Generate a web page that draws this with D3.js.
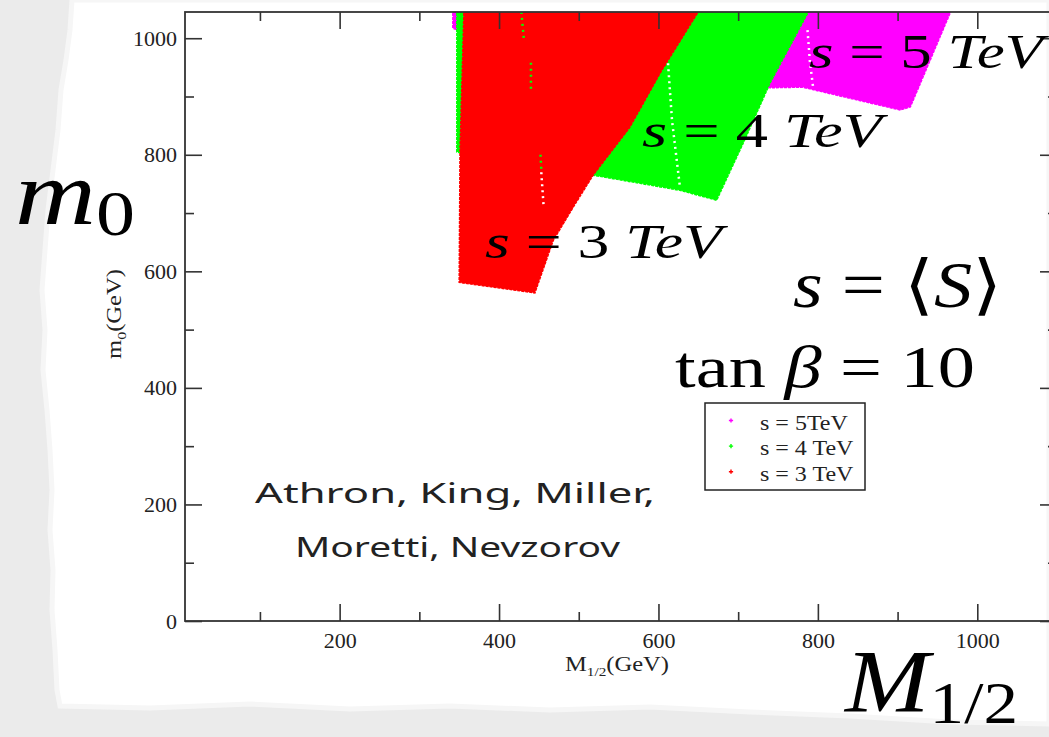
<!DOCTYPE html>
<html>
<head>
<meta charset="utf-8">
<script src="https://cdn.jsdelivr.net/npm/d3@7"></script>
<style>
  html, body { margin: 0; padding: 0; background: #fff; }
  svg { display: block; }
  text { white-space: pre; }
</style>
</head>
<body>
<svg id="chart" width="1049" height="737"></svg>
<script>
'use strict';

// tick values
var xTicks = [200, 400, 600, 800, 1000];
var xMinor = [100, 300, 500, 700, 900];
var yTicks = [0, 200, 400, 600, 800, 1000];
var yMinor = [100, 300, 500, 700, 900];

// allowed regions in the (M1/2, m0) plane, GeV
var region5 = [[342, 1050], [342, 1017], [348, 1014], [740, 915], [781, 916], [840, 897],
               [903, 877], [916, 882], [968, 1050]];
var region4 = [[347, 1050], [347, 805], [353, 803], [518, 765], [577, 751], [627, 739],
               [673, 722], [708, 825], [740, 923], [790, 1050]];
var region3 = [[356, 1050], [351, 803], [350, 581], [445, 563], [468, 653], [493, 710],
               [518, 765], [564, 847], [602, 940], [652, 1050]];

// gaps in the scans (speckled lines inside the regions)
var gaps3 = [[[428, 1045], [431, 1000]], [[440, 958], [440, 910]], [[452, 800], [453, 775]]];
var gaps3white = [[[453, 770], [456, 710]]];
var gaps4white = [[[612, 957], [617, 859], [627, 744]]];
var gaps5white = [[[787, 1014], [790, 960], [794, 916]]];

var legendNames = ["s = 5TeV", "s = 4 TeV", "s = 3 TeV"];
var colors = ["#ff00ff", "#00ff00", "#ff0000"];

var width = 1049,
    height = 737;

var svg = d3.select("#chart");

var x = d3.scaleLinear().domain([6, 1100]).range([185, 1057]);
var y = d3.scaleLinear().domain([0, 1045]).range([621, 12]);

//////////// torn paper background
var paperEdge = [[72, 0], [70, 30], [66, 60], [61, 90], [58, 130], [53, 170], [48, 210], [45, 250],
                 [42, 290], [45, 330], [43, 370], [47, 410], [50, 450], [52, 490], [50, 530],
                 [53, 570], [52, 610], [55, 650], [57, 690], [60, 706], [150, 708], [250, 704],
                 [350, 709], [450, 706], [550, 710], [650, 707], [750, 712], [850, 716],
                 [950, 722], [1049, 724], [1049, 0]];

svg.append("rect").attr("width", width).attr("height", height).attr("fill", "#ebebeb");
svg.append("path")
    .attr("d", d3.line()(paperEdge) + "Z")
    .attr("fill", "#fff")
    .attr("stroke", "#f6f6f6")
    .attr("stroke-width", 5);

//////////// plot area
svg.append("clipPath").attr("id", "plotclip")
  .append("rect")
    .attr("x", x.range()[0]).attr("y", y.range()[1])
    .attr("width", x.range()[1] - x.range()[0])
    .attr("height", y.range()[0] - y.range()[1] + 2);

var plot = svg.append("g").attr("clip-path", "url(#plotclip)");

var area = d3.line().x(function(d) { return x(d[0]); }).y(function(d) { return y(d[1]); });

[region5, region4, region3].forEach(function(r, i) {
  plot.append("path")
      .attr("d", area(r) + "Z")
      .attr("fill", colors[i])
      .attr("stroke", colors[i])
      .attr("stroke-width", 1.5)
      .attr("stroke-dasharray", "3,1");
});

function gapLines(list, col) {
  list.forEach(function(g) {
    plot.append("path")
        .attr("d", area(g))
        .attr("fill", "none")
        .attr("stroke", col)
        .attr("stroke-width", 2.5)
        .attr("stroke-dasharray", "2,4");
  });
}
gapLines(gaps3, colors[1]);
gapLines(gaps3white, "#fff");
gapLines(gaps4white, "#fff");
gapLines(gaps5white, "#fff");

//////////// axes: inward ticks on all four sides
var tickFont = "'Liberation Serif', 'Times New Roman', serif";

function styleAxis(g) {
  g.select(".domain").remove();
  g.selectAll("line").attr("stroke", "#333").attr("stroke-width", 1.6);
  g.selectAll("text").attr("font-family", tickFont).attr("font-size", 22).attr("fill", "#222");
}

svg.append("g").attr("transform", "translate(0," + y.range()[0] + ")")
    .call(d3.axisBottom(x).tickValues(xTicks).tickSize(-17).tickPadding(11).tickFormat(d3.format("d")))
    .call(styleAxis);
svg.append("g").attr("transform", "translate(0," + y.range()[0] + ")")
    .call(d3.axisBottom(x).tickValues(xMinor).tickSize(-9).tickFormat(""))
    .call(styleAxis);
svg.append("g").attr("transform", "translate(0," + y.range()[1] + ")")
    .call(d3.axisTop(x).tickValues(xTicks).tickSize(-17).tickFormat(""))
    .call(styleAxis);
svg.append("g").attr("transform", "translate(0," + y.range()[1] + ")")
    .call(d3.axisTop(x).tickValues(xMinor).tickSize(-9).tickFormat(""))
    .call(styleAxis);

svg.append("g").attr("transform", "translate(" + x.range()[0] + ",0)")
    .call(d3.axisLeft(y).tickValues(yTicks).tickSize(-17).tickPadding(8).tickFormat(d3.format("d")))
    .call(styleAxis);
svg.append("g").attr("transform", "translate(" + x.range()[0] + ",0)")
    .call(d3.axisLeft(y).tickValues(yMinor).tickSize(-9).tickFormat(""))
    .call(styleAxis);
svg.append("g").attr("transform", "translate(" + x.range()[1] + ",0)")
    .call(d3.axisRight(y).tickValues(yTicks).tickSize(-17).tickFormat(""))
    .call(styleAxis);
svg.append("g").attr("transform", "translate(" + x.range()[1] + ",0)")
    .call(d3.axisRight(y).tickValues(yMinor).tickSize(-9).tickFormat(""))
    .call(styleAxis);

// frame
svg.append("rect")
    .attr("x", x.range()[0]).attr("y", y.range()[1])
    .attr("width", x.range()[1] - x.range()[0])
    .attr("height", y.range()[0] - y.range()[1])
    .attr("fill", "none")
    .attr("stroke", "#333")
    .attr("stroke-width", 1.8);

// small axis titles
var xt = svg.append("text")
    .attr("x", 617).attr("y", 671)
    .attr("text-anchor", "middle")
    .attr("font-family", tickFont).attr("font-size", 21).attr("fill", "#222")
    .attr("textLength", 104).attr("lengthAdjust", "spacingAndGlyphs");
xt.append("tspan").text("M");
xt.append("tspan").text("1/2").attr("font-size", 13).attr("dy", 5);
xt.append("tspan").text("(GeV)").attr("dy", -5);

var yt = svg.append("text")
    .attr("transform", "translate(121,314) rotate(-90)")
    .attr("text-anchor", "middle")
    .attr("font-family", tickFont).attr("font-size", 20).attr("fill", "#222")
    .attr("textLength", 90).attr("lengthAdjust", "spacingAndGlyphs");
yt.append("tspan").text("m");
yt.append("tspan").text("0").attr("font-size", 13).attr("dy", 5);
yt.append("tspan").text("(GeV)").attr("dy", -5);

//////////// legend
var legend = svg.append("g");
legend.append("rect")
    .attr("x", 705).attr("y", 403).attr("width", 160).attr("height", 87)
    .attr("fill", "#fff").attr("stroke", "#222").attr("stroke-width", 1.5);

var ly = d3.scalePoint().domain(legendNames).range([429.5, 480.7]);

legendNames.forEach(function(name, i) {
  legend.append("path")
      .attr("d", d3.symbol(d3.symbolCross, 10)())
      .attr("transform", "translate(731," + (ly(name) - 9) + ")")
      .attr("fill", colors[i]);
  var t = legend.append("text")
      .attr("x", 760).attr("y", ly(name))
      .attr("font-family", tickFont).attr("font-size", 20).attr("fill", "#222")
      .text(name);
  t.attr("textLength", t.node().getComputedTextLength() * 1.2).attr("lengthAdjust", "spacingAndGlyphs");
});

//////////// big annotations pasted over the plot
var mathFont = "'Liberation Serif', 'DejaVu Serif', serif";

function mathLabel(parts, x0, base, size, len) {
  var t = svg.append("text")
      .attr("x", x0).attr("y", base)
      .attr("font-family", mathFont).attr("font-size", size).attr("fill", "#000");
  parts.forEach(function(p) {
    var s = t.append("tspan").text(p[0]).attr("font-style", p[1] ? "italic" : "normal");
    if (p[2]) s.attr("font-size", p[2]);
    if (p[3]) s.attr("dy", p[3]);
  });
  t.attr("textLength", len).attr("lengthAdjust", "spacingAndGlyphs");
  return t;
}

mathLabel([["s", 1], [" = 5 ", 0], ["TeV", 1]], 809, 68, 48, 234);
mathLabel([["s", 1], [" = 4 ", 0], ["TeV", 1]], 642, 147, 48, 240);
mathLabel([["s", 1], [" = 3 ", 0], ["TeV", 1]], 485, 258, 48, 237);
mathLabel([["s", 1], [" = ", 0], ["\u27E8", 0], ["S", 1], ["\u27E9", 0]], 793, 307, 66, 209);
mathLabel([["tan ", 0], ["\u03B2", 1], [" = 10", 0]], 675, 387, 60, 300);
mathLabel([["m", 1], ["0", 0, 64, 11]], 15, 224, 92, 120);
mathLabel([["M", 1], ["1/2", 0, 60, 12]], 845, 711, 88, 173);

// authors
var handFont = "'Segoe Print', 'Comic Sans MS', 'Noto Sans', sans-serif";
svg.append("text")
    .attr("x", 255).attr("y", 503)
    .attr("font-family", handFont).attr("font-size", 28).attr("fill", "#222")
    .attr("textLength", 400).attr("lengthAdjust", "spacingAndGlyphs")
    .text("Athron, King, Miller,");
svg.append("text")
    .attr("x", 295).attr("y", 557)
    .attr("font-family", handFont).attr("font-size", 28).attr("fill", "#222")
    .attr("textLength", 325).attr("lengthAdjust", "spacingAndGlyphs")
    .text("Moretti, Nevzorov");
</script>
</body>
</html>
